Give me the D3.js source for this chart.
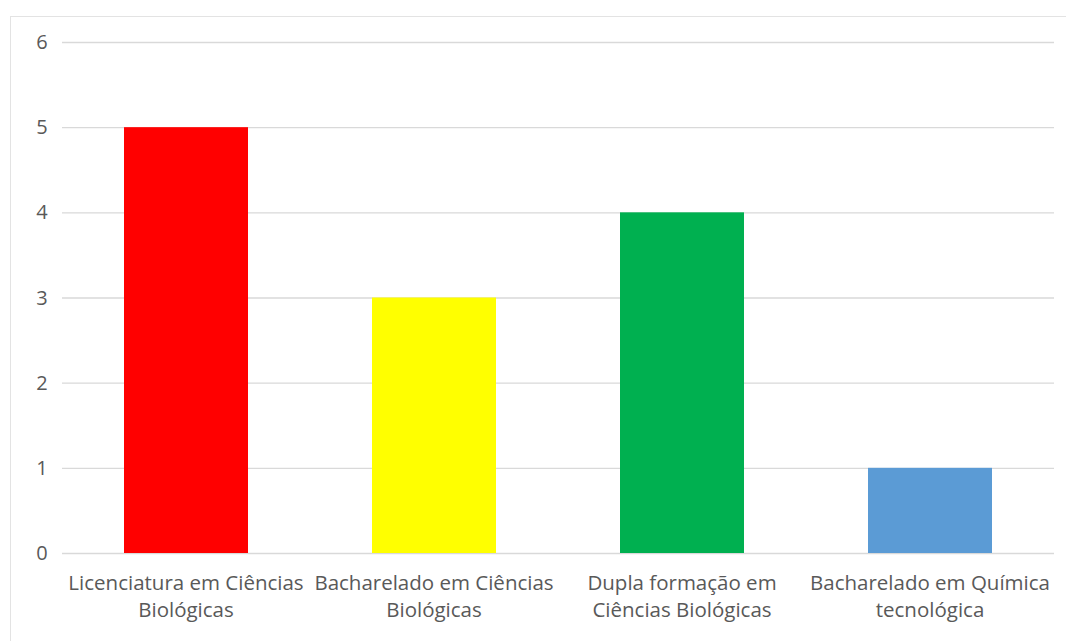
<!DOCTYPE html>
<html lang="pt">
<head>
    <meta charset="utf-8">
    <title>Cursos</title>
    <script type="text/javascript" src="https://d3js.org/d3.v7.min.js"></script>
    <style>
        body { margin: 0; background: #fff; }
        text { font-family: "Open Sans", "Liberation Sans", sans-serif; fill: #595959; }
        .grid line { stroke: #d9d9d9; stroke-width: 1.3; }
        .grid path { display: none; }
    </style>
</head>
<body>
    <div id="chart"></div>
    <script type="text/javascript">
        const categories = [
            "Licenciatura em Ciências Biológicas",
            "Bacharelado em Ciências Biológicas",
            "Dupla formação em Ciências Biológicas",
            "Bacharelado em Química tecnológica"
        ];
        // how each label breaks into lines
        const labelLines = [
            ["Licenciatura em Ciências", "Biológicas"],
            ["Bacharelado em Ciências", "Biológicas"],
            ["Dupla formação em", "Ciências Biológicas"],
            ["Bacharelado em Química", "tecnológica"]
        ];
        const values = [5, 3, 4, 1];
        const colors = ["#ff0000", "#ffff00", "#00b050", "#5b9bd5"];
        const yTicks = [0, 1, 2, 3, 4, 5, 6];

        const width = 1066, height = 641;
        const margin = {left: 62, right: 12, top: 42, bottom: 88};

        const svg = d3.select("#chart").append("svg")
            .attr("width", width)
            .attr("height", height);

        // chart frame (cut off at right and bottom)
        svg.append("rect")
            .attr("x", 10.5).attr("y", 16.5)
            .attr("width", 1070).attr("height", 640)
            .attr("fill", "none")
            .attr("stroke", "#e3e3e3");

        const x = d3.scaleBand()
            .domain(categories)
            .range([margin.left, width - margin.right])
            .paddingInner(0.5)
            .paddingOuter(0.25);

        const y = d3.scaleLinear()
            .domain([0, 6])
            .range([height - margin.bottom, margin.top]);

        // gridlines
        svg.append("g")
            .attr("class", "grid")
            .attr("transform", `translate(${margin.left},0)`)
            .call(d3.axisLeft(y).tickValues(yTicks).tickSize(-(width - margin.left - margin.right)).tickFormat(""));

        // y tick labels
        svg.append("g")
            .selectAll("text")
            .data(yTicks)
            .enter()
            .append("text")
                .attr("x", 42)
                .attr("y", d => y(d))
                .attr("dy", "0.35em")
                .attr("text-anchor", "middle")
                .style("font-size", "20px")
                .text(d => d);

        // bars
        svg.append("g")
            .selectAll("rect")
            .data(values)
            .enter()
            .append("rect")
                .attr("x", (d, i) => x(categories[i]))
                .attr("y", d => y(d))
                .attr("width", x.bandwidth())
                .attr("height", d => y(0) - y(d))
                .attr("fill", (d, i) => colors[i]);

        // category labels, two lines each
        const labels = svg.append("g")
            .selectAll("text")
            .data(categories)
            .enter()
            .append("text")
                .attr("x", d => x(d) + x.bandwidth() / 2)
                .attr("y", y(0) + 37)
                .attr("text-anchor", "middle")
                .style("font-size", "20.5px");

        labels.selectAll("tspan")
            .data((d, i) => labelLines[i])
            .enter()
            .append("tspan")
                .attr("x", function() { return d3.select(this.parentNode).attr("x"); })
                .attr("dy", (d, j) => j === 0 ? 0 : 27)
                .text(d => d);
    </script>
</body>
</html>
